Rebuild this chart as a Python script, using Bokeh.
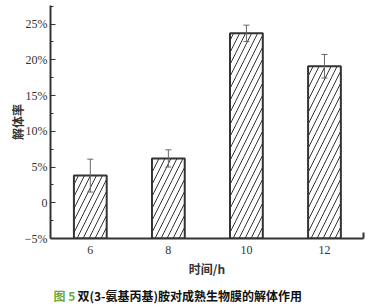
from bokeh.plotting import figure
from bokeh.layouts import column
from bokeh.models import ColumnDataSource, FixedTicker, Whisker, TeeHead, Range1d
from bokeh.core.properties import value
from bokeh.embed import file_html
from bokeh.resources import INLINE

categories = ["6", "8", "10", "12"]
rates = [3.8, 6.2, 23.7, 19.1]
errors = [2.3, 1.2, 1.15, 1.65]
y_ticks = [-5, 0, 5, 10, 15, 20, 25]
y_tick_labels = ["\u22125%", "0", "5%", "10%", "15%", "20%", "25%"]
baseline = -5
x_label = "时间/h"
y_label = "解体率"
caption_prefix = "图 5"
caption_text = "双(3-氨基丙基)胺对成熟生物膜的解体作用"

xs = list(range(1, len(categories) + 1))
src = ColumnDataSource(dict(
    x=xs, top=rates, bottom=[baseline] * len(xs),
    upper=[r + e for r, e in zip(rates, errors)],
    lower=[r - e for r, e in zip(rates, errors)],
))

p = figure(width=377, height=279, output_backend="svg", toolbar_location=None,
           x_range=Range1d(0.49, len(xs) + 0.5), y_range=Range1d(-5, 27.6),
           min_border_left=50, min_border_right=14, min_border_top=5, min_border_bottom=40,
           background_fill_color="white", border_fill_color="white")
p.outline_line_color = None
p.grid.visible = False

p.vbar(x="x", top="top", bottom="bottom", width=0.42, source=src,
       fill_color="white", line_color="#333333", line_width=2,
       hatch_pattern="/", hatch_color="#333333", hatch_weight=1, hatch_scale=12)

w = Whisker(base="x", upper="upper", lower="lower", source=src,
            line_color="#666666", line_width=1, level="overlay",
            upper_head=TeeHead(size=6, line_color="#666666", line_width=1),
            lower_head=TeeHead(size=6, line_color="#666666", line_width=1))
p.add_layout(w)

serif = "Liberation Serif"
cjk = "Noto Sans CJK SC"

ya = p.yaxis[0]
ya.ticker = FixedTicker(ticks=y_ticks, minor_ticks=[-2.5, 2.5, 7.5, 12.5, 17.5, 22.5, 27.5])
ya.major_label_overrides = {t: l for t, l in zip(y_ticks, y_tick_labels)}
ya.major_label_text_font = serif
ya.major_label_text_font_size = "12px"
ya.major_label_text_color = "#333333"
ya.major_label_standoff = 3
ya.major_tick_in = 5
ya.major_tick_out = 0
ya.minor_tick_in = 3
ya.minor_tick_out = 0
ya.axis_line_width = 2
ya.axis_line_color = "#333333"
ya.major_tick_line_color = "#333333"
ya.minor_tick_line_color = "#333333"
ya.axis_label = y_label
ya.axis_label_text_font = cjk
ya.axis_label_text_font_style = "bold"
ya.axis_label_text_font_size = "12px"
ya.axis_label_text_color = "#333333"
ya.axis_label_standoff = -4

xa = p.xaxis[0]
xa.ticker = FixedTicker(ticks=xs, minor_ticks=[len(xs) + 0.5])
xa.major_label_overrides = {x: c for x, c in zip(xs, categories)}
xa.major_label_text_font = serif
xa.major_label_text_font_size = "12px"
xa.major_label_text_color = "#333333"
xa.major_label_standoff = 7
xa.major_tick_in = 0
xa.major_tick_out = 0
xa.minor_tick_in = 6
xa.minor_tick_out = 0
xa.axis_line_width = 2
xa.axis_line_color = "#333333"
xa.minor_tick_line_color = "#333333"
xa.minor_tick_line_width = 2
xa.axis_label = x_label
xa.axis_label_text_font = cjk
xa.axis_label_text_font_style = "bold"
xa.axis_label_text_font_size = "12px"
xa.axis_label_text_color = "#333333"
xa.axis_label_standoff = 3

# caption strip below the chart (frame aligned with main plot: pixel x 50..363)
cap = figure(width=377, height=26, output_backend="svg", toolbar_location=None,
             x_range=Range1d(50, 363), y_range=Range1d(0, 26),
             min_border_left=50, min_border_right=14, min_border_top=0, min_border_bottom=0,
             background_fill_color="white", border_fill_color="white")
cap.axis.visible = False
cap.grid.visible = False
cap.outline_line_color = None
cap.text(x=[53], y=[10], text=[caption_prefix], text_font=value(cjk),
         text_font_style="bold", text_font_size="12px", text_color="#6aaa3a",
         text_baseline="middle")
cap.text(x=[77], y=[10], text=[caption_text], text_font=value(cjk),
         text_font_style="bold", text_font_size="12px", text_color="#111111",
         text_baseline="middle")

layout = column(p, cap, spacing=0)
open("out.html", "w").write(file_html(layout, INLINE))
